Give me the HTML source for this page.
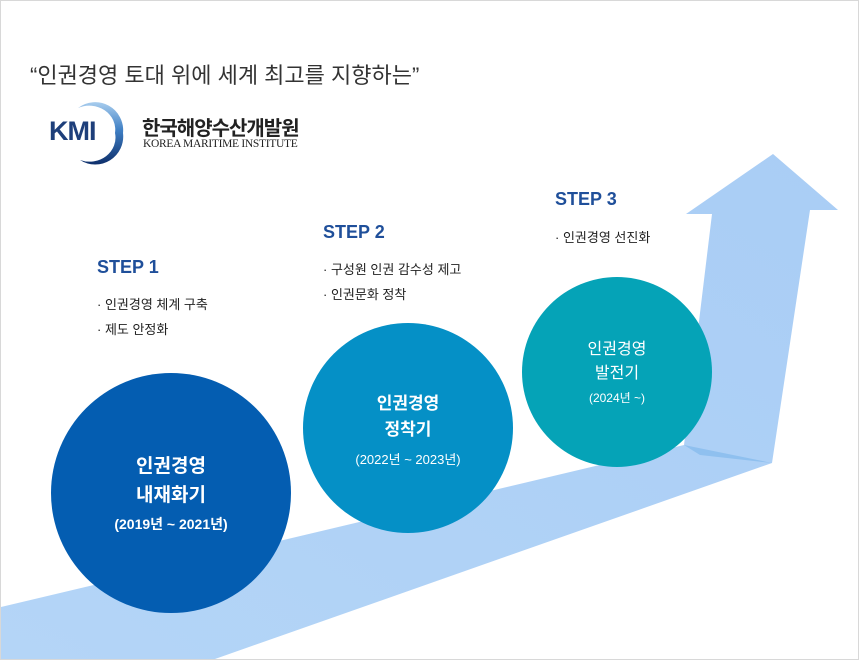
<!DOCTYPE html>
<html><head><meta charset="utf-8"><style>
body{margin:0;width:859px;height:660px;overflow:hidden;background:#fff;font-family:"Liberation Sans","Noto Sans CJK KR",sans-serif;}
.f{position:absolute;left:0;top:0;width:857px;height:658px;border:1px solid #d8d8d8;}
.t{position:absolute;white-space:nowrap;}
.step{color:#1f4f9a;font-weight:bold;font-size:18px;}
.b{color:#222;font-size:13px;}
.c{position:absolute;color:#fff;text-align:center;}
</style></head><body>
<div class="f"></div>
<svg width="859" height="660" style="position:absolute;left:0;top:0">
<defs><linearGradient id="g" x1="0" y1="1" x2="1" y2="0"><stop offset="0" stop-color="#b4d5f7"/><stop offset="1" stop-color="#a9cdf5"/></linearGradient>
<linearGradient id="k" x1="0" y1="0" x2="0" y2="1"><stop offset="0" stop-color="#a8cdee"/><stop offset="0.45" stop-color="#3f7fc4"/><stop offset="1" stop-color="#0e2f6b"/></linearGradient></defs>
<polygon points="1,607 684,445 712,214 686,214 773,154 838,210 810,210 772,463 215,659 1,659" fill="url(#g)"/>
<polygon points="684,445 772,463 700,455" fill="#8fc0ef"/>
<circle cx="171" cy="493" r="120" fill="#045db1"/>
<circle cx="408" cy="428" r="105" fill="#0590c6"/>
<circle cx="617" cy="372" r="95" fill="#05a3b7"/>
<path d="M78 108 A28 28 0 0 1 123 133 A28 28 0 0 1 80 160 A26 24 0 0 0 115 133 A26 24 0 0 0 78 108Z" fill="url(#k)"/>
</svg>
<div class="t" style="left:30px;top:58px;font-size:22px;color:#333;">“인권경영 토대 위에 세계 최고를 지향하는”</div>
<div class="t" style="left:49px;top:116px;font-weight:bold;font-size:27px;color:#1e3f7a;letter-spacing:-1px">KMI</div>
<div class="t" style="left:142px;top:112px;font-size:20px;color:#222;font-weight:bold;letter-spacing:-1px">한국해양수산개발원</div>
<div class="t" style="left:143px;top:138px;font-family:'Liberation Serif',serif;font-size:11.5px;color:#222;letter-spacing:-0.3px">KOREA MARITIME INSTITUTE</div>
<div class="t step" style="left:97px;top:257px">STEP 1</div>
<div class="t b" style="left:97px;top:294px">· 인권경영 체계 구축</div>
<div class="t b" style="left:97px;top:319px">· 제도 안정화</div>
<div class="t step" style="left:323px;top:222px">STEP 2</div>
<div class="t b" style="left:323px;top:259px">· 구성원 인권 감수성 제고</div>
<div class="t b" style="left:323px;top:284px">· 인권문화 정착</div>
<div class="t step" style="left:555px;top:189px">STEP 3</div>
<div class="t b" style="left:555px;top:227px">· 인권경영 선진화</div>
<div class="c" style="left:51px;width:240px;top:452px;font-size:19px;font-weight:bold;line-height:29px">인권경영<br>내재화기</div>
<div class="c" style="left:51px;width:240px;top:514px;font-size:14px;font-weight:bold">(2019년 ~ 2021년)</div>
<div class="c" style="left:303px;width:210px;top:391px;font-size:17px;font-weight:bold;line-height:26px">인권경영<br>정착기</div>
<div class="c" style="left:303px;width:210px;top:449px;font-size:13px">(2022년 ~ 2023년)</div>
<div class="c" style="left:522px;width:190px;top:338px;font-size:16px;line-height:24px">인권경영<br>발전기</div>
<div class="c" style="left:522px;width:190px;top:389px;font-size:12px">(2024년 ~)</div>
</body></html>
